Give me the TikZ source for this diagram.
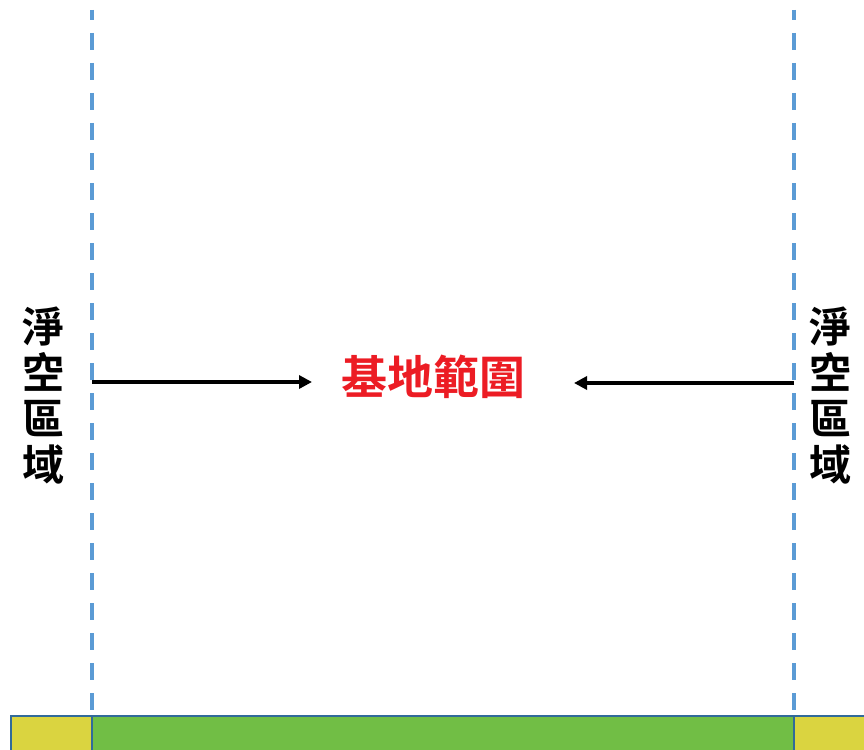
\documentclass[tikz,border=0pt]{standalone}
\usepackage{fontspec}
\newfontfamily\cjk{Noto Sans CJK TC Bold}
\usetikzlibrary{arrows.meta}
\definecolor{dashblue}{RGB}{91,155,213}
\definecolor{edgeblue}{RGB}{49,106,154}
\definecolor{baryellow}{RGB}{218,212,64}
\definecolor{bargreen}{RGB}{113,190,69}
\definecolor{labred}{RGB}{236,28,36}
\tikzset{
  x=1pt,y=-1pt,
  bound/.style={dashblue,line width=3.5pt,dash pattern=on 17pt off 13pt,dash phase=7pt},
  barcell/.style={draw=edgeblue,line width=2pt},
  pointer/.style={line width=4pt,-{Triangle[length=13pt,width=13pt]}},
  vlabel/.style={font=\cjk\fontsize{42}{46}\selectfont,align=center,inner sep=0pt},
  mainlabel/.style={font=\cjk\fontsize{46}{50}\selectfont,text=labred,inner sep=0pt}
}
\begin{document}
\begin{tikzpicture}
\useasboundingbox (0,0) rectangle (864,749);
% bottom bar
\fill[baryellow] (11,716) rectangle (92,760);
\fill[bargreen] (92,716) rectangle (794,760);
\fill[baryellow] (794,716) rectangle (880,760);
\draw[barcell] (11,760) -- (11,716) -- (880,716);
\draw[barcell] (92,716) -- (92,760);
\draw[barcell] (794,716) -- (794,760);
% dashed boundaries
\coordinate (ltop) at (92,10);
\coordinate (lbot) at (92,716);
\coordinate (rtop) at (794,10);
\coordinate (rbot) at (794,716);
\draw[bound] (ltop) -- (lbot);
\draw[bound] (rtop) -- (rbot);
% labels
\node[mainlabel] (site) at (433,377) {基地範圍};
\node[vlabel] (lclear) at (44,396) {淨\\空\\區\\域};
\node[vlabel] (rclear) at (830,396) {淨\\空\\區\\域};
% arrows
\coordinate (lstart) at (92,382);
\coordinate (rstart) at (794,383);
\coordinate (lend) at (312,382);
\coordinate (rend) at (574,383);
\draw[pointer] (lstart) -- (lend);
\draw[pointer] (rstart) -- (rend);
\end{tikzpicture}
\end{document}
